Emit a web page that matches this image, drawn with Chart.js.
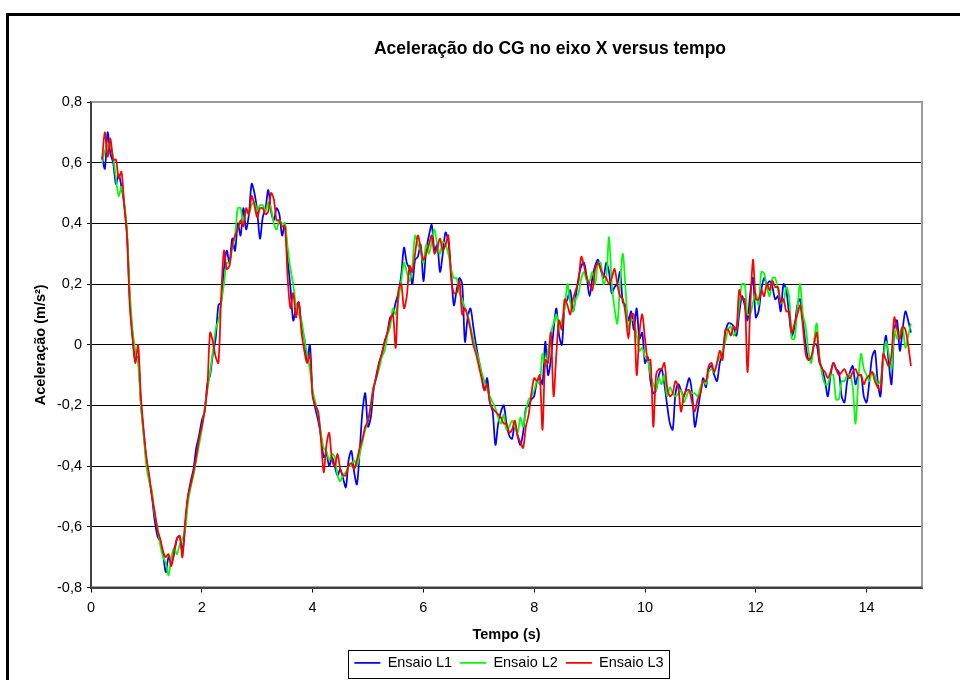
<!DOCTYPE html>
<html><head><meta charset="utf-8">
<script src="https://cdn.jsdelivr.net/npm/chart.js@4.4.0/dist/chart.umd.min.js"></script>
<style>html,body{margin:0;padding:0;background:#fff;overflow:hidden}</style>
</head><body>
<canvas id="c" width="960" height="680"></canvas>
<script>
const titulo = 'Aceleração do CG no eixo X versus tempo';
const eixoX = 'Tempo (s)';
const eixoY = 'Aceleração (m/s²)';
const nomes = ['Ensaio L1', 'Ensaio L2', 'Ensaio L3'];
const cores = ['#0000FF', '#00FF00', '#FF0000'];
const xTicks = [0, 2, 4, 6, 8, 10, 12, 14];

const tempo = [
  0.2,0.25,0.3,0.35,0.4,0.45,0.5,0.55,0.6,0.65,0.7,0.75,0.8,0.85,0.9,0.95,
  1.0,1.05,1.1,1.15,1.2,1.25,1.3,1.35,1.4,1.45,1.5,1.55,1.6,1.65,1.7,1.75,1.8,1.85,1.9,1.95,
  2.0,2.05,2.1,2.15,2.2,2.25,2.3,2.35,2.4,2.45,2.5,2.55,2.6,2.65,2.7,2.75,2.8,2.85,2.9,2.95,
  3.0,3.05,3.1,3.15,3.2,3.25,3.3,3.35,3.4,3.45,3.5,3.55,3.6,3.65,3.7,3.75,3.8,3.85,3.9,3.95,
  4.0,4.05,4.1,4.15,4.2,4.25,4.3,4.35,4.4,4.45,4.5,4.55,4.6,4.65,4.7,4.75,4.8,4.85,4.9,4.95,
  5.0,5.05,5.1,5.15,5.2,5.25,5.3,5.35,5.4,5.45,5.5,5.55,5.6,5.65,5.7,5.75,5.8,5.85,5.9,5.95,
  6.0,6.05,6.1,6.15,6.2,6.25,6.3,6.35,6.4,6.45,6.5,6.55,6.6,6.65,6.7,6.75,6.8,6.85,6.9,6.95,
  7.0,7.05,7.1,7.15,7.2,7.25,7.3,7.35,7.4,7.45,7.5,7.55,7.6,7.65,7.7,7.75,7.8,7.85,7.9,7.95,
  8.0,8.05,8.1,8.15,8.2,8.25,8.3,8.35,8.4,8.45,8.5,8.55,8.6,8.65,8.7,8.75,8.8,8.85,8.9,8.95,
  9.0,9.05,9.1,9.15,9.2,9.25,9.3,9.35,9.4,9.45,9.5,9.55,9.6,9.65,9.7,9.75,9.8,9.85,9.9,9.95,
  10.0,10.05,10.1,10.15,10.2,10.25,10.3,10.35,10.4,10.45,10.5,10.55,10.6,10.65,10.7,10.75,10.8,10.85,10.9,10.95,
  11.0,11.05,11.1,11.15,11.2,11.25,11.3,11.35,11.4,11.45,11.5,11.55,11.6,11.65,11.7,11.75,11.8,11.85,11.9,11.95,
  12.0,12.05,12.1,12.15,12.2,12.25,12.3,12.35,12.4,12.45,12.5,12.55,12.6,12.65,12.7,12.75,12.8,12.85,12.9,12.95,
  13.0,13.05,13.1,13.15,13.2,13.25,13.3,13.35,13.4,13.45,13.5,13.55,13.6,13.65,13.7,13.75,13.8,13.85,13.9,13.95,
  14.0,14.05,14.1,14.15,14.2,14.25,14.3,14.35,14.4,14.45,14.5,14.55,14.6,14.65,14.7,14.75,14.8
];

const ensaioL1 = [
  0.62,0.58,0.70,0.63,0.60,0.53,0.56,0.52,0.46,0.36,0.15,0.03,-0.05,-0.04,-0.19,-0.29,
  -0.38,-0.44,-0.50,-0.58,-0.63,-0.65,-0.69,-0.75,-0.70,-0.72,-0.69,-0.64,-0.63,-0.68,-0.60,-0.50,-0.45,-0.41,-0.34,-0.30,
  -0.25,-0.22,-0.13,-0.10,-0.03,0.02,0.13,0.14,0.25,0.31,0.27,0.35,0.31,0.40,0.36,0.45,0.38,0.43,0.53,0.50,
  0.44,0.35,0.42,0.45,0.51,0.44,0.41,0.45,0.43,0.36,0.40,0.28,0.19,0.08,0.12,0.14,0.06,0.02,-0.05,0.00,
  -0.16,-0.21,-0.25,-0.30,-0.37,-0.36,-0.40,-0.37,-0.40,-0.43,-0.41,-0.44,-0.47,-0.38,-0.35,-0.42,-0.46,-0.35,-0.22,-0.16,
  -0.27,-0.24,-0.15,-0.10,-0.06,-0.03,0.01,0.04,0.09,0.10,0.14,0.17,0.23,0.32,0.27,0.25,0.20,0.28,0.29,0.33,
  0.21,0.31,0.36,0.395,0.31,0.33,0.24,0.30,0.37,0.34,0.24,0.13,0.18,0.22,0.20,0.01,0.09,0.12,0.06,0.00,
  -0.05,-0.10,-0.15,-0.11,-0.19,-0.22,-0.33,-0.26,-0.22,-0.20,-0.26,-0.30,-0.31,-0.26,-0.30,-0.33,-0.29,-0.21,-0.20,-0.18,
  -0.17,-0.12,-0.11,-0.13,0.01,-0.10,-0.05,0.05,0.12,0.03,0.00,0.13,0.15,0.18,0.11,0.16,0.22,0.26,0.27,0.22,
  0.16,0.22,0.26,0.28,0.25,0.22,0.27,0.24,0.17,0.19,0.20,0.24,0.14,0.13,0.08,0.11,0.05,0.12,0.02,0.04,
  -0.06,-0.04,-0.12,-0.16,-0.15,-0.10,-0.08,-0.13,-0.20,-0.26,-0.28,-0.16,-0.13,-0.15,-0.17,-0.14,-0.11,-0.16,-0.27,-0.22,
  -0.16,-0.11,-0.14,-0.08,-0.07,-0.10,-0.12,-0.06,-0.03,0.04,0.07,0.07,0.06,0.03,0.10,0.16,0.13,0.08,0.17,0.22,
  0.09,0.11,0.18,0.22,0.20,0.21,0.19,0.15,0.16,0.11,0.20,0.18,0.10,0.03,0.06,0.13,0.15,0.08,0.00,-0.05,
  -0.05,0.00,0.00,-0.06,-0.08,-0.12,-0.17,-0.10,-0.06,-0.08,-0.09,-0.17,-0.19,-0.12,-0.09,-0.07,-0.13,-0.10,-0.10,-0.17,
  -0.19,-0.12,-0.04,-0.02,-0.12,-0.17,-0.04,0.03,-0.06,-0.13,0.05,0.08,-0.02,0.05,0.11,0.08,0.04
];

const ensaioL2 = [
  0.60,0.64,0.66,0.66,0.62,0.55,0.49,0.52,0.47,0.38,0.18,0.05,-0.02,-0.06,-0.20,-0.30,
  -0.40,-0.45,-0.48,-0.56,-0.60,-0.66,-0.70,-0.72,-0.76,-0.70,-0.67,-0.69,-0.66,-0.64,-0.61,-0.52,-0.47,-0.43,-0.38,-0.33,
  -0.28,-0.21,-0.15,-0.09,-0.02,0.05,0.08,0.14,0.20,0.27,0.27,0.32,0.36,0.45,0.45,0.40,0.44,0.43,0.46,0.47,
  0.44,0.46,0.46,0.44,0.47,0.45,0.40,0.38,0.41,0.40,0.40,0.32,0.25,0.20,0.13,0.10,0.08,0.02,-0.03,-0.08,
  -0.15,-0.19,-0.23,-0.29,-0.34,-0.35,-0.38,-0.36,-0.37,-0.43,-0.45,-0.43,-0.42,-0.40,-0.40,-0.38,-0.40,-0.36,-0.32,-0.28,
  -0.25,-0.20,-0.14,-0.11,-0.08,-0.04,-0.02,0.03,0.06,0.12,0.10,0.15,0.21,0.27,0.24,0.21,0.26,0.36,0.33,0.31,
  0.27,0.33,0.30,0.34,0.38,0.33,0.30,0.34,0.33,0.30,0.25,0.22,0.22,0.17,0.15,0.12,0.10,0.06,0.02,-0.02,
  -0.05,-0.09,-0.12,-0.15,-0.17,-0.19,-0.21,-0.24,-0.26,-0.23,-0.28,-0.27,-0.25,-0.27,-0.29,-0.24,-0.27,-0.22,-0.18,-0.17,
  -0.15,-0.12,-0.13,-0.03,-0.07,-0.02,0.04,0.07,0.10,0.05,0.08,0.12,0.20,0.14,0.11,0.15,0.17,0.22,0.24,0.21,
  0.21,0.24,0.20,0.27,0.27,0.20,0.22,0.355,0.20,0.12,0.07,0.20,0.30,0.18,0.05,0.08,0.08,0.03,-0.02,-0.01,
  -0.04,-0.05,-0.10,-0.13,-0.15,-0.11,-0.13,-0.10,-0.17,-0.14,-0.16,-0.17,-0.16,-0.15,-0.19,-0.17,-0.15,-0.16,-0.16,-0.17,
  -0.14,-0.12,-0.13,-0.09,-0.08,-0.09,-0.06,-0.04,-0.02,0.01,0.05,0.06,0.03,0.05,0.13,0.20,0.20,0.10,0.10,0.14,
  0.17,0.13,0.24,0.235,0.19,0.16,0.22,0.22,0.18,0.14,0.14,0.19,0.16,0.02,0.02,0.12,0.20,0.10,0.06,-0.02,
  -0.06,0.01,0.07,-0.04,-0.10,-0.13,-0.13,-0.10,-0.10,-0.18,-0.18,-0.12,-0.12,-0.10,-0.10,-0.14,-0.26,-0.12,-0.03,-0.08,
  -0.10,-0.12,-0.09,-0.10,-0.13,-0.12,-0.05,0.01,-0.03,-0.08,0.05,0.02,0.04,0.06,-0.01,0.03,0.07
];

const ensaioL3 = [
  0.61,0.70,0.62,0.68,0.61,0.61,0.55,0.57,0.46,0.36,0.13,0.02,-0.06,0.00,-0.17,-0.28,
  -0.37,-0.43,-0.50,-0.55,-0.61,-0.64,-0.68,-0.70,-0.69,-0.73,-0.68,-0.64,-0.63,-0.70,-0.58,-0.50,-0.46,-0.42,-0.37,-0.31,
  -0.27,-0.22,-0.14,0.04,0.01,-0.04,-0.06,0.16,0.31,0.25,0.26,0.33,0.36,0.38,0.41,0.39,0.45,0.43,0.49,0.46,
  0.42,0.45,0.45,0.43,0.44,0.50,0.48,0.41,0.41,0.39,0.39,0.22,0.12,0.17,0.09,0.14,0.04,-0.02,-0.06,-0.03,
  -0.17,-0.20,-0.22,-0.31,-0.42,-0.33,-0.29,-0.38,-0.40,-0.36,-0.41,-0.43,-0.43,-0.40,-0.39,-0.41,-0.38,-0.34,-0.31,-0.27,
  -0.25,-0.20,-0.14,-0.11,-0.06,-0.03,0.01,0.04,0.08,0.10,-0.01,0.18,0.20,0.12,0.16,0.26,0.24,0.30,0.36,0.32,
  0.28,0.30,0.33,0.36,0.30,0.32,0.35,0.31,0.33,0.36,0.22,0.17,0.17,0.21,0.10,0.12,0.09,0.05,0.00,-0.03,
  -0.07,-0.11,-0.15,-0.13,-0.19,-0.21,-0.22,-0.23,-0.24,-0.26,-0.26,-0.29,-0.28,-0.25,-0.30,-0.32,-0.34,-0.27,-0.23,-0.16,
  -0.11,-0.12,-0.10,-0.28,-0.05,-0.06,0.04,-0.17,-0.03,0.08,0.05,0.15,0.13,0.10,0.15,0.18,0.21,0.29,0.26,0.22,
  0.20,0.18,0.25,0.27,0.25,0.23,0.22,0.20,0.22,0.25,0.20,0.16,0.15,0.10,0.02,0.10,0.10,-0.10,0.04,0.10,
  0.02,-0.05,-0.05,-0.27,-0.10,-0.08,-0.08,-0.06,-0.14,-0.17,-0.16,-0.12,-0.14,-0.22,-0.17,-0.15,-0.15,-0.19,-0.22,-0.18,
  -0.16,-0.12,-0.12,-0.07,-0.06,-0.09,-0.06,-0.02,-0.05,0.05,0.05,0.03,0.06,0.05,0.18,0.15,0.15,-0.09,0.12,0.28,
  0.15,0.15,0.18,0.16,0.20,0.18,0.21,0.19,0.19,0.14,0.15,0.11,0.11,0.04,0.07,0.10,0.13,0.06,-0.03,-0.05,
  -0.04,0.00,0.04,-0.05,-0.08,-0.09,-0.11,-0.09,-0.06,-0.08,-0.10,-0.09,-0.08,-0.10,-0.11,-0.09,-0.08,-0.10,-0.10,-0.13,
  -0.11,-0.10,-0.09,-0.12,-0.14,-0.15,-0.03,-0.05,-0.07,-0.03,0.09,0.05,0.02,0.06,0.05,0.00,-0.07
];

const series = [ensaioL1, ensaioL2, ensaioL3];
const FONT = '"Liberation Sans", Arial, Helvetica, sans-serif';
Chart.defaults.font.family = FONT;
Chart.defaults.color = '#000';

const framePlugin = {
  id: 'frame',
  afterLayout(chart) {
    const shift = (box, cx) => {
      if (!box) return;
      const d = cx - (box.left + box.right) / 2;
      box.left += d; box.right += d;
    };
    shift(chart.titleBlock, 550);
    shift(chart.legend, 509);
  },
  beforeDraw(chart) {
    const ctx = chart.ctx;
    ctx.save();
    ctx.fillStyle = '#fff';
    ctx.fillRect(0, 0, chart.width, chart.height);
    ctx.strokeStyle = '#000';
    ctx.lineWidth = 3;
    ctx.strokeRect(7.5, 14.5, 1400, 1400);
    ctx.restore();
  },
  beforeDatasetsDraw(chart) {
    const ctx = chart.ctx, a = chart.chartArea;
    ctx.save();
    ctx.strokeStyle = '#9a9a9a';
    ctx.lineWidth = 2;
    ctx.beginPath();
    ctx.moveTo(a.left, a.top);
    ctx.lineTo(a.right, a.top);
    ctx.lineTo(a.right, a.bottom);
    ctx.stroke();
    ctx.strokeStyle = '#404040';
    ctx.beginPath();
    ctx.moveTo(a.left, a.top);
    ctx.lineTo(a.left, a.bottom);
    ctx.lineTo(a.right, a.bottom);
    ctx.stroke();
    ctx.restore();
  },
  afterDraw(chart) {
    const lg = chart.legend;
    if (!lg || !lg.lineWidths) return;
    const pad = lg.options.labels.padding;
    const w = lg.lineWidths[0];
    const start = (lg.left + pad + lg.right - w) / 2;
    const end = start + w - pad;
    const ctx = chart.ctx;
    ctx.save();
    ctx.strokeStyle = '#000';
    ctx.lineWidth = 1;
    ctx.strokeRect(Math.round(start - 6) + 0.5, Math.round(lg.top + 2) + 0.5, Math.round(end - start + 12), 28);
    ctx.restore();
  }
};

new Chart(document.getElementById('c'), {
  type: 'line',
  data: {
    datasets: series.map((s, i) => ({
      label: nomes[i],
      data: tempo.map((t, j) => ({ x: t, y: s[j] })),
      borderColor: cores[i],
      backgroundColor: cores[i],
      borderWidth: 1.75,
      pointRadius: 0,
      pointStyle: 'line',
      tension: 0.3,
      fill: false,
      order: 3 - i
    }))
  },
  options: {
    responsive: false,
    animation: false,
    devicePixelRatio: 1,
    events: [],
    layout: { padding: { left: 30, right: 38, top: 0, bottom: 0 } },
    plugins: {
      tooltip: { enabled: false },
      title: {
        display: true,
        text: titulo,
        font: { size: 17.5, weight: 'bold' },
        color: '#000',
        padding: { top: 39, bottom: 42 }
      },
      legend: {
        display: true,
        position: 'bottom',
        labels: {
          usePointStyle: true,
          pointStyleWidth: 26,
          padding: 8,
          font: { size: 14.5 },
          color: '#000',
          sort: (a, b) => a.datasetIndex - b.datasetIndex
        }
      }
    },
    scales: {
      x: {
        type: 'linear',
        min: 0,
        max: 15,
        afterFit: s => { s.height = 60; },
        afterBuildTicks: s => { s.ticks = xTicks.map(v => ({ value: v })); },
        ticks: { font: { size: 14.5 }, color: '#000', padding: 7, maxRotation: 0,
                 callback: v => String(v) },
        grid: { drawOnChartArea: false, drawTicks: true, tickLength: 5, color: '#000' },
        border: { display: true, color: '#404040', width: 2 },
        title: { display: true, text: eixoX, font: { size: 14.5, weight: 'bold' }, color: '#000', padding: { top: 4, bottom: 4 } }
      },
      y: {
        min: -0.8,
        max: 0.8,
        afterFit: s => { s.width = 61; },
        ticks: {
          stepSize: 0.2,
          font: { size: 14.5 },
          color: '#000',
          padding: 5,
          callback: v => { const r = Math.round(v * 10) / 10; return r === 0 ? '0' : r.toFixed(1).replace('.', ','); }
        },
        grid: {
          color: c => (Math.abs(c.tick.value - 0.8) < 1e-6 ? '#9a9a9a' : '#000'),
          tickColor: '#000',
          tickLength: 4,
          lineWidth: 1
        },
        border: { display: true, color: '#404040', width: 2 },
        title: { display: true, text: eixoY, font: { size: 14.5, weight: 'bold' }, color: '#000', padding: { top: 2, bottom: 2 } }
      }
    }
  },
  plugins: [framePlugin]
});
</script>
</body></html>
